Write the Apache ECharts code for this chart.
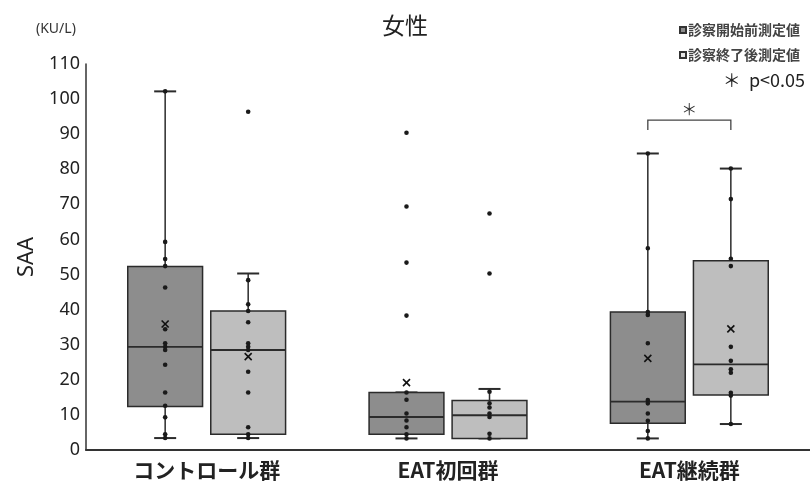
<!DOCTYPE html>
<html>
<head>
<meta charset="utf-8">
<script src="https://cdn.jsdelivr.net/npm/echarts@6/dist/echarts.min.js"></script>
<style>
  html, body { margin: 0; padding: 0; background: #fff; }
  #chart { width: 810px; height: 485px; }
</style>
</head>
<body>
<div id="chart"></div>
<script>
  // groups on the x axis
  var categories = ['コントロール群', 'EAT初回群', 'EAT継続群'];
  var seriesNames = ['診察開始前測定値', '診察終了後測定値'];

  // box stats: [min, Q1, median, Q3, max]
  var preBox = [
    [3.4, 12.4, 29.4, 52.3, 102.2],
    [3.3, 4.5, 9.4, 16.4, 16.4],
    [3.3, 7.6, 13.8, 39.3, 84.5]
  ];
  var postBox = [
    [3.4, 4.5, 28.5, 39.6, 50.3],
    [3.3, 3.3, 9.9, 14.1, 17.4],
    [7.4, 15.7, 24.4, 53.9, 80.2]
  ];
  // means (x marks), null = not shown
  var preMean = [35.9, 19.2, 26.1];
  var postMean = [26.6, null, 34.5];

  // individual values
  var prePoints = [
    [102.2, 59.3, 54.4, 52.4, 46.3, 34.4, 30.4, 29.4, 28.5, 24.3, 16.4, 12.6, 9.3, 4.5, 3.4],
    [90.4, 69.4, 53.4, 38.3, 16.4, 14.3, 10.4, 8.4, 6.5, 4.5, 3.3],
    [84.5, 57.5, 39.3, 38.5, 30.4, 14.2, 13.3, 10.4, 8.3, 5.4, 3.3]
  ];
  var postPoints = [
    [96.4, 48.4, 41.5, 39.6, 36.4, 30.4, 29.4, 28.5, 22.3, 16.4, 6.5, 4.5, 3.4],
    [67.4, 50.3, 16.6, 13.3, 12.1, 10.4, 9.4, 4.6, 3.3],
    [80.2, 71.5, 54.5, 52.4, 29.4, 25.4, 23.0, 22.0, 16.3, 15.5, 7.4]
  ];

  // significance bracket: [category index, bracket height]
  var sigPairs = [[2, 94]];

  var yTicks = { min: 0, max: 110, interval: 10 };

  var OFFSET = 0.172;   // box centre offset, fraction of band
  var BOXW = 0.31;      // box width, fraction of band
  var INK = '#2b2b2b';

  function boxData(stats, means) {
    return stats.map(function (s, i) {
      return [i].concat(s).concat([means[i] == null ? NaN : means[i]]);
    });
  }

  function pointData(points) {
    var out = [];
    points.forEach(function (list, i) {
      list.forEach(function (v) { out.push([i, v]); });
    });
    return out;
  }

  function boxRenderer(side, fill) {
    return function (params, api) {
      var cat = api.value(0);
      var band = api.size([1, 0])[0];
      var cx = api.coord([cat, 0])[0] + side * band * OFFSET;
      var w = band * BOXW;
      var cap = 11;
      var y = function (v) { return api.coord([cat, v])[1]; };
      var lo = y(api.value(1)), q1 = y(api.value(2)), med = y(api.value(3)),
          q3 = y(api.value(4)), hi = y(api.value(5));
      var ls = { stroke: INK, lineWidth: 1.5 };
      var kids = [
        { type: 'line', shape: { x1: cx, y1: hi, x2: cx, y2: q3 }, style: ls },
        { type: 'line', shape: { x1: cx, y1: q1, x2: cx, y2: lo }, style: ls },
        { type: 'line', shape: { x1: cx - cap, y1: hi, x2: cx + cap, y2: hi }, style: { stroke: INK, lineWidth: 2 } },
        { type: 'line', shape: { x1: cx - cap, y1: lo, x2: cx + cap, y2: lo }, style: { stroke: INK, lineWidth: 2 } },
        { type: 'rect', shape: { x: cx - w / 2, y: q3, width: w, height: q1 - q3 },
          style: { fill: fill, stroke: INK, lineWidth: 1.5 } },
        { type: 'line', shape: { x1: cx - w / 2, y1: med, x2: cx + w / 2, y2: med }, style: { stroke: INK, lineWidth: 1.8 } }
      ];
      var mean = api.value(6);
      if (!isNaN(mean)) {
        var my = y(mean), m = 3.5;
        kids.push({ type: 'line', shape: { x1: cx - m, y1: my - m, x2: cx + m, y2: my + m }, style: { stroke: '#111', lineWidth: 1.6 } });
        kids.push({ type: 'line', shape: { x1: cx - m, y1: my + m, x2: cx + m, y2: my - m }, style: { stroke: '#111', lineWidth: 1.6 } });
      }
      return { type: 'group', children: kids };
    };
  }

  function pointRenderer(side) {
    return function (params, api) {
      var cat = api.value(0);
      var band = api.size([1, 0])[0];
      var p = api.coord([cat, api.value(1)]);
      return { type: 'circle', shape: { cx: p[0] + side * band * OFFSET, cy: p[1], r: 2.3 },
               style: { fill: '#1a1a1a' } };
    };
  }

  function sigRenderer(params, api) {
    var cat = api.value(0);
    var band = api.size([1, 0])[0];
    var c = api.coord([cat, api.value(1)]);
    var xl = c[0] - band * OFFSET, xr = c[0] + band * OFFSET;
    var legY = api.coord([cat, api.value(1) - 2.8])[1];
    return {
      type: 'group',
      children: [
        { type: 'polyline', shape: { points: [[xl, legY], [xl, c[1]], [xr, c[1]], [xr, legY]] },
          style: { stroke: '#444', lineWidth: 1.3, fill: null } },
        { type: 'text', style: { x: c[0], y: c[1] - 3, text: '＊', fill: '#333',
          font: '16px "Noto Sans CJK JP"', textAlign: 'center', textVerticalAlign: 'bottom' } }
      ]
    };
  }

  var chart = echarts.init(document.getElementById('chart'));

  var option = {
    animation: false,
    textStyle: { fontFamily: '"Noto Sans CJK JP", "Noto Sans", sans-serif' },
    title: {
      text: '女性',
      left: 'center',
      top: 9,
      textStyle: { fontSize: 23, fontWeight: 'normal', color: '#222' }
    },
    legend: {
      data: seriesNames,
      orient: 'vertical',
      right: 5,
      top: 18,
      itemGap: 11,
      itemWidth: 6,
      itemHeight: 6,
      icon: 'rect',
      textStyle: { fontSize: 14, color: '#444', fontWeight: 'bold', padding: [0, 0, 0, -3] }
    },
    graphic: [
      { type: 'text', left: 36, top: 22, style: { text: '(KU/L)', fill: '#333',
        font: '14px "Noto Sans", sans-serif' } },
      { type: 'text', right: 5, top: 71, style: { text: '＊  p<0.05', fill: '#222',
        font: '18px "Noto Sans CJK JP", sans-serif' } }
    ],
    grid: { left: 86, right: 0, top: 64, bottom: 35 },
    xAxis: {
      type: 'category',
      data: categories,
      axisLine: { lineStyle: { color: '#333', width: 2 } },
      axisTick: { show: false },
      axisLabel: { fontSize: 21, fontWeight: 'bold', color: '#222', margin: 10 }
    },
    yAxis: {
      type: 'value',
      min: yTicks.min,
      max: yTicks.max,
      interval: yTicks.interval,
      name: 'SAA',
      nameLocation: 'middle',
      nameRotate: 90,
      nameGap: 48,
      nameTextStyle: { fontSize: 22, color: '#222', fontFamily: '"Noto Sans", sans-serif' },
      axisLine: { show: true, lineStyle: { color: '#333', width: 1.5 } },
      axisTick: { show: false },
      splitLine: { show: false },
      axisLabel: { fontSize: 18, color: '#222', margin: 6, fontFamily: '"Noto Sans", sans-serif' }
    },
    series: [
      {
        name: seriesNames[0], type: 'custom', renderItem: boxRenderer(-1, '#8d8d8d'),
        itemStyle: { color: '#8d8d8d', borderColor: '#333', borderWidth: 1 },
        encode: { x: 0, y: [1, 2, 3, 4, 5] }, data: boxData(preBox, preMean), z: 2
      },
      {
        name: seriesNames[1], type: 'custom', renderItem: boxRenderer(1, '#bebebe'),
        itemStyle: { color: '#e6e6e6', borderColor: '#333', borderWidth: 1 },
        encode: { x: 0, y: [1, 2, 3, 4, 5] }, data: boxData(postBox, postMean), z: 2
      },
      {
        name: 'pre-points', type: 'custom', renderItem: pointRenderer(-1),
        encode: { x: 0, y: 1 }, data: pointData(prePoints), z: 3
      },
      {
        name: 'post-points', type: 'custom', renderItem: pointRenderer(1),
        encode: { x: 0, y: 1 }, data: pointData(postPoints), z: 3
      },
      {
        name: 'sig', type: 'custom', renderItem: sigRenderer,
        encode: { x: 0, y: 1 }, data: sigPairs, z: 3
      }
    ]
  };

  chart.setOption(option);
</script>
</body>
</html>
